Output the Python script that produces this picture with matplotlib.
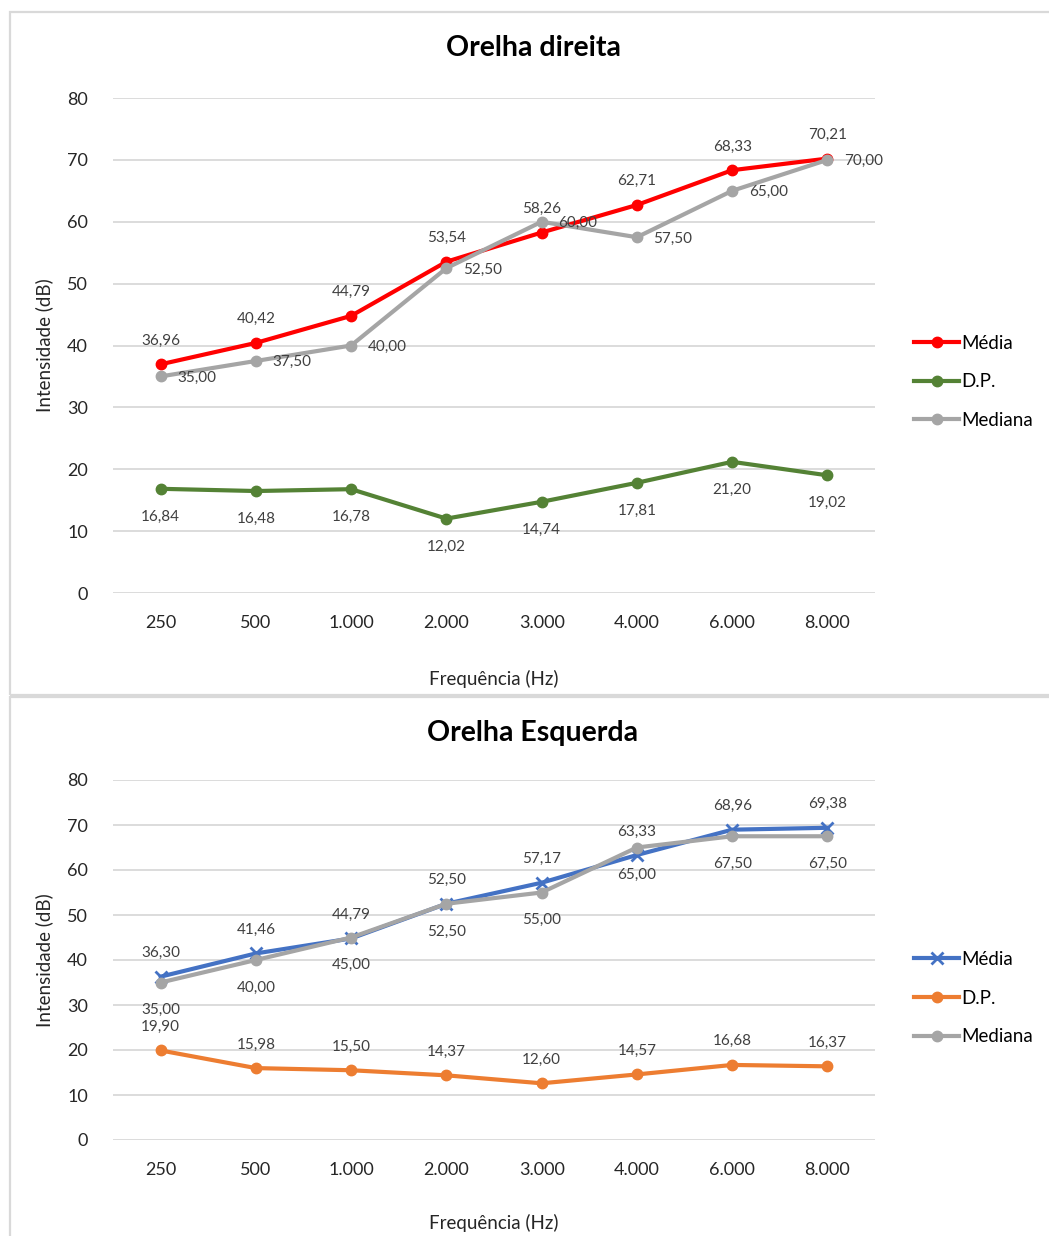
import matplotlib
matplotlib.use("Agg")
import matplotlib.pyplot as plt
from matplotlib.patches import Rectangle

plt.rcParams["font.family"] = ["Lato", "DejaVu Sans"]

# frequências (rótulos do eixo x)
freqs = ["250", "500", "1.000", "2.000", "3.000", "4.000", "6.000", "8.000"]

# Orelha direita
dir_media = [36.96, 40.42, 44.79, 53.54, 58.26, 62.71, 68.33, 70.21]
dir_dp = [16.84, 16.48, 16.78, 12.02, 14.74, 17.81, 21.20, 19.02]
dir_mediana = [35.00, 37.50, 40.00, 52.50, 60.00, 57.50, 65.00, 70.00]

# Orelha esquerda
esq_media = [36.30, 41.46, 44.79, 52.50, 57.17, 63.33, 68.96, 69.38]
esq_dp = [19.90, 15.98, 15.50, 14.37, 12.60, 14.57, 16.68, 16.37]
esq_mediana = [35.00, 40.00, 45.00, 52.50, 55.00, 65.00, 67.50, 67.50]

W, H = 1049, 1236
fig = plt.figure(figsize=(W / 100, H / 100), dpi=100)
fig.patch.set_facecolor("white")


def px_axes(x0, y0, x1, y1):
    # retângulo em pixels (origem no canto superior esquerdo)
    return fig.add_axes([x0 / W, 1 - y1 / H, (x1 - x0) / W, (y1 - y0) / H])


def fmt(v):
    return f"{v:.2f}".replace(".", ",")


def labels(ax, ys, pos, color="#404040"):
    for i, v in enumerate(ys):
        if pos == "above":
            kw = dict(xytext=(0, 17), ha="center", va="center")
        elif pos == "below":
            kw = dict(xytext=(0, -20), ha="center", va="center")
        else:
            kw = dict(xytext=(12, -1), ha="left", va="center")
        ax.annotate(fmt(v), (i, v), textcoords="offset points",
                    fontsize=11, color=color, **kw)


def panel(ax, title, title_y, series, legend_y, xlab_pad):
    x = range(len(freqs))
    ax.set_xlim(-0.5, len(freqs) - 0.5)
    ax.set_ylim(0, 80)
    ax.set_yticks(range(0, 81, 10))
    ax.set_xticks(list(x))
    ax.set_xticklabels(freqs)
    for s in ax.spines.values():
        s.set_visible(False)
    ax.grid(axis="y", color="#d9d9d9", lw=1.3)
    ax.set_axisbelow(True)
    ax.tick_params(length=0, labelsize=13, labelcolor="#262626", pad=16)
    ax.tick_params(axis="y", pad=18)
    fig.text(533 / W, 1 - title_y / H, title, fontsize=20.5, fontweight="bold",
             color="black", ha="center", va="center")
    ax.set_xlabel("Frequência (Hz)", fontsize=13.5, color="#262626",
                  labelpad=xlab_pad)
    ax.set_ylabel("Intensidade (dB)", fontsize=13.5, color="#262626",
                  labelpad=10)
    handles = []
    for ys, name, color, marker, ms, pos in series:
        h, = ax.plot(list(x), ys, color=color, lw=3, marker=marker,
                     ms=ms, mew=2 if marker == "x" else 1, label=name, zorder=3)
        handles.append(h)
        labels(ax, ys, pos)
    fig.legend(handles=handles, loc="center left",
               bbox_to_anchor=(905 / W, 1 - legend_y / H), frameon=False,
               fontsize=13.5, handlelength=2.4, handletextpad=0.1,
               labelspacing=1.15, borderpad=0)


# molduras dos dois gráficos
fig.patches.append(Rectangle((10 / W, 1 - 695 / H), 1.0, 683 / H,
                             transform=fig.transFigure, fill=False,
                             ec="#d9d9d9", lw=1.6))
fig.patches.append(Rectangle((10 / W, 0 - 0.01), 1.0, 1 - 697 / H + 0.01,
                             transform=fig.transFigure, fill=False,
                             ec="#d9d9d9", lw=1.6))

ax1 = px_axes(113, 98, 875, 593)
panel(ax1, "Orelha direita", 48, [
    (dir_media, "Média", "#ff0000", "o", 7.5, "above"),
    (dir_dp, "D.P.", "#548235", "o", 7.5, "below"),
    (dir_mediana, "Mediana", "#a5a5a5", "o", 7.5, "right"),
], 382, 28)

ax2 = px_axes(113, 780, 875, 1140)
panel(ax2, "Orelha Esquerda", 733, [
    (esq_media, "Média", "#4472c4", "x", 8, "above"),
    (esq_dp, "D.P.", "#ed7d31", "o", 7.5, "above"),
    (esq_mediana, "Mediana", "#a5a5a5", "o", 7.5, "below"),
], 998, 26)

fig.savefig("out.png", dpi=100, facecolor="white")
